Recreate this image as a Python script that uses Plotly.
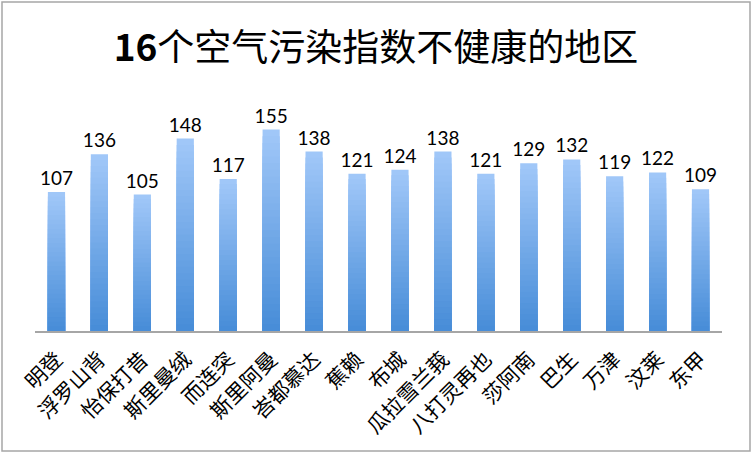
import plotly.graph_objects as go

# 数据
regions = ["明登", "浮罗山背", "怡保打昔", "斯里曼绒", "而连突", "斯里阿曼", "峇都慕达", "蕉赖",
           "布城", "瓜拉雪兰莪", "八打灵再也", "莎阿南", "巴生", "万津", "汶莱", "东甲"]
api_values = [107, 136, 105, 148, 117, 155, 138, 121, 124, 138, 121, 129, 132, 119, 122, 109]

top_rgb = (160, 199, 248)
bottom_rgb = (72, 141, 216)
n_layers = 30

fig = go.Figure()

# 渐变效果: 叠加多层柱子, 越短越深
for k in range(n_layers):
    t = k / (n_layers - 1)
    r = round(top_rgb[0] + (bottom_rgb[0] - top_rgb[0]) * t)
    g = round(top_rgb[1] + (bottom_rgb[1] - top_rgb[1]) * t)
    b = round(top_rgb[2] + (bottom_rgb[2] - top_rgb[2]) * t)
    frac = (n_layers - k) / n_layers
    fig.add_trace(go.Bar(
        x=regions,
        y=[v * frac for v in api_values],
        marker=dict(color=f"rgb({r},{g},{b})", line=dict(width=0)),
        text=api_values if k == 0 else None,
        textposition="outside" if k == 0 else "none",
        constraintext="none",
        textfont=dict(family="Lato", size=19, color="black"),
        cliponaxis=False,
        hoverinfo="skip" if k else "x+y",
        showlegend=False,
    ))

fig.update_layout(
    width=752, height=453,
    barmode="overlay",
    bargap=0.6,
    plot_bgcolor="white",
    paper_bgcolor="white",
    margin=dict(l=35, r=30, t=97, b=122),
    title=dict(
        text="<b>16</b>个空气污染指数不健康的地区",
        x=0.5, xanchor="center", y=0.893, yanchor="middle",
        font=dict(family="Noto Sans CJK SC", size=37, color="black"),
    ),
    xaxis=dict(
        tickangle=-45,
        automargin=False,
        ticklabelstandoff=6,
        tickfont=dict(family="Noto Sans CJK SC", size=21, color="black"),
        showline=True, linecolor="#a6a6a6", linewidth=1.5,
        ticks="", showgrid=False,
    ),
    yaxis=dict(range=[0, 180], visible=False),
    shapes=[dict(
        type="rect", xref="paper", yref="paper",
        x0=-33 / 687, x1=715 / 687, y0=-120 / 234, y1=329 / 234,
        line=dict(color="#a6a6a6", width=1.5),
    )],
)

fig.write_html("out.html", config={"displayModeBar": False},
               post_script="document.body.style.margin='0';")
